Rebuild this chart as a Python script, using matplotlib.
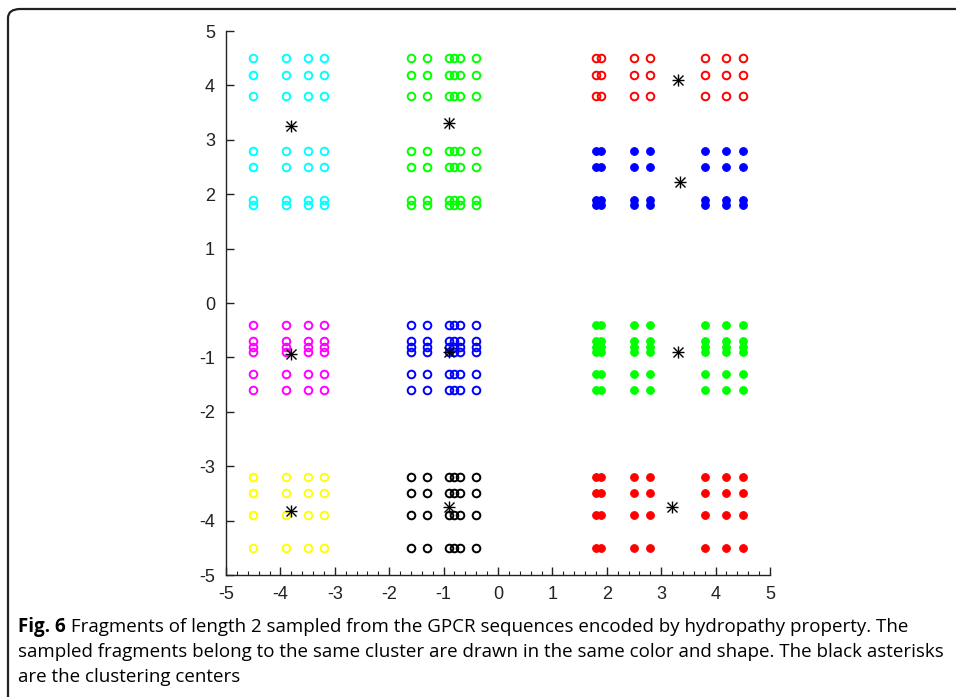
import numpy as np
import matplotlib
matplotlib.use("Agg")
import matplotlib.pyplot as plt
from matplotlib.patches import FancyBboxPatch
from matplotlib.ticker import MultipleLocator

# Hydropathy levels appearing in each coordinate group
x_left = [-4.5, -3.9, -3.5, -3.2]
x_mid = [-1.6, -1.3, -0.9, -0.8, -0.7, -0.4]
x_right = [1.8, 1.9, 2.5, 2.8, 3.8, 4.2, 4.5]
y_top = [4.5, 4.2, 3.8, 2.8, 2.5, 1.9, 1.8]
y_top_hi = [4.5, 4.2, 3.8]
y_top_lo = [2.8, 2.5, 1.9, 1.8]
y_mid = [-0.4, -0.7, -0.8, -0.9, -1.3, -1.6]
y_low = [-3.2, -3.5, -3.9, -4.5]

# clusters: (x levels, y levels, color, filled)
clusters = [
    (x_left, y_top, "#00ffff", False),
    (x_mid, y_top, "#00ff00", False),
    (x_right, y_top_hi, "#ff0000", False),
    (x_right, y_top_lo, "#0000ff", True),
    (x_left, y_mid, "#ff00ff", False),
    (x_mid, y_mid, "#0000ff", False),
    (x_right, y_mid, "#00ff00", True),
    (x_left, y_low, "#ffff00", False),
    (x_mid, y_low, "#000000", False),
    (x_right, y_low, "#ff0000", True),
]

center_x = [-3.8, -0.9, 3.3, 3.35, -3.8, -0.9, 3.3, -3.8, -0.9, 3.2]
center_y = [3.25, 3.3, 4.1, 2.22, -0.93, -0.9, -0.9, -3.82, -3.75, -3.75]

tick_vals = list(range(-5, 6))
tick_labels = [str(v) for v in tick_vals]

caption_bold = "Fig. 6"
caption_lines = [
    " Fragments of length 2 sampled from the GPCR sequences encoded by hydropathy property. The",
    "sampled fragments belong to the same cluster are drawn in the same color and shape. The black asterisks",
    "are the clustering centers",
]

fig = plt.figure(figsize=(9.56, 6.97), dpi=100)

# border of the figure panel (rounded top-left corner)
border = FancyBboxPatch((8 / 956, -0.2), 1.2, (697 - 9) / 697 + 0.2,
                        boxstyle="round,pad=0,rounding_size=0.013",
                        transform=fig.transFigure, fill=False,
                        edgecolor="#222222", linewidth=1.6, clip_on=False)
fig.patches.append(border)

ax = fig.add_axes([226 / 956, (697 - 575) / 697, 544 / 956, 544 / 697])

for xs, ys, col, filled in clusters:
    X, Y = np.meshgrid(xs, ys)
    if filled:
        ax.plot(X.ravel(), Y.ravel(), linestyle="none", marker="o", markersize=5.5,
                markerfacecolor=col, markeredgecolor=col, markeredgewidth=0.8)
    else:
        ax.plot(X.ravel(), Y.ravel(), linestyle="none", marker="o", markersize=5.5,
                markerfacecolor="none", markeredgecolor=col, markeredgewidth=1.4)

ax.plot(center_x, center_y, linestyle="none", marker="+", markersize=9,
        color="black", markeredgewidth=1.0)
ax.plot(center_x, center_y, linestyle="none", marker="x", markersize=6.5,
        color="black", markeredgewidth=1.0)

ax.set_xlim(-5, 5)
ax.set_ylim(-5, 5)
ax.xaxis.set_minor_locator(MultipleLocator(0.2))
for s in ("top", "right"):
    ax.spines[s].set_visible(False)
for s in ("left", "bottom"):
    ax.spines[s].set_color("#222222")
    ax.spines[s].set_linewidth(1.0)
ax.tick_params(axis="both", which="major", direction="in", length=6, width=1.0,
               colors="#222222", labelsize=13, pad=8)
ax.tick_params(axis="x", which="minor", direction="in", length=3, width=0.8,
               colors="#222222")
ax.set_xticks(tick_vals)
ax.set_xticklabels(tick_labels, fontfamily="Liberation Sans")
ax.set_yticks(tick_vals)
ax.set_yticklabels(tick_labels, fontfamily="Liberation Sans")

cap_font = "Open Sans"
cap_size = 13.5
t = fig.text(18 / 956, 1 - 627 / 697, caption_bold, fontsize=cap_size, fontweight="bold",
             family=cap_font, va="center", ha="left")
fig.canvas.draw()
bb = t.get_window_extent()
fig.text(bb.x1 / 956, 1 - 627 / 697, caption_lines[0], fontsize=cap_size,
         family=cap_font, va="center", ha="left")
fig.text(18 / 956, 1 - 652 / 697, caption_lines[1], fontsize=cap_size,
         family=cap_font, va="center", ha="left")
fig.text(18 / 956, 1 - 677 / 697, caption_lines[2], fontsize=cap_size,
         family=cap_font, va="center", ha="left")

fig.savefig("out.png", dpi=100)
